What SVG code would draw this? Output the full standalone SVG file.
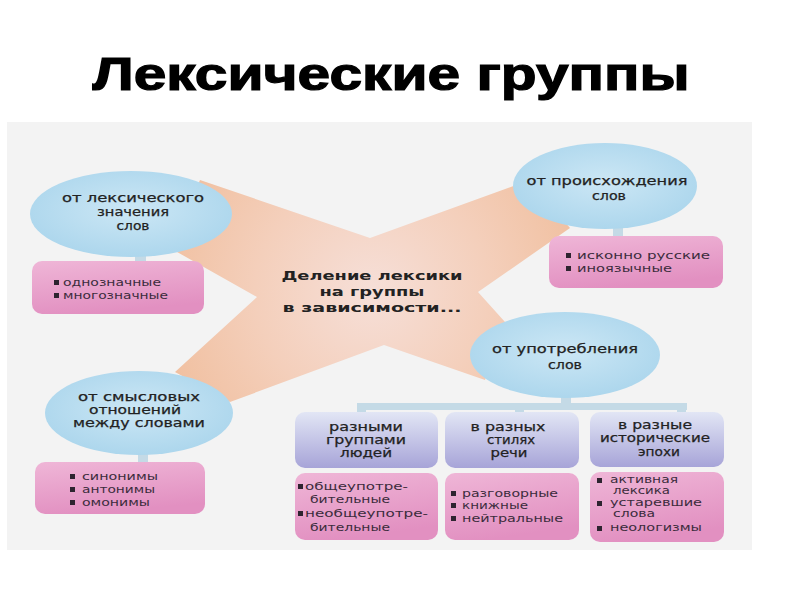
<svg xmlns="http://www.w3.org/2000/svg" width="800" height="600" viewBox="0 0 800 600">
<defs>
<radialGradient id="peach" cx="372" cy="292" r="260" gradientUnits="userSpaceOnUse">
<stop offset="0" stop-color="#f6dfd8"/>
<stop offset="0.45" stop-color="#f4cfbb"/>
<stop offset="1" stop-color="#efb994"/>
</radialGradient>
<radialGradient id="blue" cx="0.5" cy="0.45" r="0.6">
<stop offset="0" stop-color="#cce7f5"/>
<stop offset="1" stop-color="#aad5ec"/>
</radialGradient>
<linearGradient id="pink" x1="0" y1="0" x2="0.3" y2="1">
<stop offset="0" stop-color="#efb6d7"/>
<stop offset="1" stop-color="#e290c1"/>
</linearGradient>
<linearGradient id="lav" x1="0" y1="0" x2="0" y2="1">
<stop offset="0" stop-color="#e2e6f5"/>
<stop offset="1" stop-color="#a7a4d8"/>
</linearGradient>
</defs>
<style>
.ell{fill:url(#blue)}
.pink{fill:url(#pink)}
.lav{fill:url(#lav)}
.stem{fill:#c4dae6}
.t{font-family:"DejaVu Sans","Liberation Sans",sans-serif;font-size:12px;fill:#222;stroke:#222;stroke-width:0.25;text-anchor:middle}
.b{font-weight:bold;stroke-width:0}
.l{font-family:"DejaVu Sans","Liberation Sans",sans-serif;font-size:11px;fill:#3b2c3c}
.s{font-size:10px}
.bul{fill:#2e2430}
</style>
<rect width="800" height="600" fill="#ffffff"/>
<rect x="7" y="122" width="745" height="428" fill="#f3f3f3"/>

<text x="391" y="90" font-family="Liberation Sans, Arial, sans-serif" font-weight="bold" font-size="46" textLength="597" lengthAdjust="spacingAndGlyphs" text-anchor="middle" fill="#000" stroke="#000" stroke-width="1.2">Лексические группы</text>

<g id="x-shape">
<polygon fill="url(#peach)" points="200,180 370,238 530,180 570,228 478,292 505,322 485,380 384,345 230,402 175,372 257,297 170,248"/>
</g>

<g id="connectors">
<rect class="stem" x="135" y="252" width="11" height="10"/>
<rect class="stem" x="613" y="226" width="10" height="11"/>
<rect class="stem" x="138" y="452" width="10" height="11"/>
<rect class="stem" x="561" y="395" width="10" height="10"/>
<rect class="stem" x="357" y="403" width="330" height="7"/>
<rect class="stem" x="357" y="403" width="9" height="10"/>
<rect class="stem" x="515" y="403" width="9" height="10"/>
<rect class="stem" x="677" y="403" width="9" height="10"/>
</g>

<g id="center">
<text class="t b" x="372" y="280" font-size="13" textLength="181" lengthAdjust="spacingAndGlyphs">Деление лексики</text>
<text class="t b" x="372" y="296" font-size="13" textLength="105" lengthAdjust="spacingAndGlyphs">на группы</text>
<text class="t b" x="372" y="312" font-size="13" textLength="179" lengthAdjust="spacingAndGlyphs">в зависимости...</text>
</g>

<g id="lexical-meaning">
<ellipse class="ell" cx="131" cy="214" rx="101" ry="43"/>
<text class="t" x="133" y="202" textLength="142" lengthAdjust="spacingAndGlyphs">от лексического</text>
<text class="t" x="133" y="216" textLength="72" lengthAdjust="spacingAndGlyphs">значения</text>
<text class="t" x="133" y="230" textLength="33" lengthAdjust="spacingAndGlyphs">слов</text>
</g>
<g id="lexical-meaning-list">
<rect class="pink" x="32" y="261" width="172" height="53" rx="10"/>
<rect class="bul" x="54" y="280" width="5" height="5"/>
<rect class="bul" x="54" y="293" width="5" height="5"/>
<text class="l" x="63" y="286" textLength="98" lengthAdjust="spacingAndGlyphs">однозначные</text>
<text class="l" x="63" y="299" textLength="105" lengthAdjust="spacingAndGlyphs">многозначные</text>
</g>

<g id="origin">
<ellipse class="ell" cx="605" cy="186" rx="92" ry="43"/>
<text class="t" x="607" y="185" textLength="161" lengthAdjust="spacingAndGlyphs">от происхождения</text>
<text class="t" x="609" y="200" textLength="34" lengthAdjust="spacingAndGlyphs">слов</text>
</g>
<g id="origin-list">
<rect class="pink" x="549" y="236" width="174" height="52" rx="10"/>
<rect class="bul" x="566" y="253" width="5" height="5"/>
<rect class="bul" x="566" y="266" width="5" height="5"/>
<text class="l" x="577" y="259" textLength="133" lengthAdjust="spacingAndGlyphs">исконно русские</text>
<text class="l" x="577" y="272" textLength="95" lengthAdjust="spacingAndGlyphs">иноязычные</text>
</g>

<g id="semantic">
<ellipse class="ell" cx="139" cy="413" rx="94" ry="42"/>
<text class="t" x="139" y="401" textLength="122" lengthAdjust="spacingAndGlyphs">от смысловых</text>
<text class="t" x="135" y="414" textLength="92" lengthAdjust="spacingAndGlyphs">отношений</text>
<text class="t" x="139" y="427" textLength="132" lengthAdjust="spacingAndGlyphs">между словами</text>
</g>
<g id="semantic-list">
<rect class="pink" x="35" y="462" width="170" height="52" rx="10"/>
<rect class="bul" x="70" y="474" width="5" height="5"/>
<rect class="bul" x="70" y="487" width="5" height="5"/>
<rect class="bul" x="70" y="500" width="5" height="5"/>
<text class="l" x="82" y="480" textLength="76" lengthAdjust="spacingAndGlyphs">синонимы</text>
<text class="l" x="82" y="493" textLength="73" lengthAdjust="spacingAndGlyphs">антонимы</text>
<text class="l" x="82" y="506" textLength="68" lengthAdjust="spacingAndGlyphs">омонимы</text>
</g>

<g id="usage">
<ellipse class="ell" cx="565" cy="355" rx="95" ry="43"/>
<text class="t" x="565" y="353" textLength="146" lengthAdjust="spacingAndGlyphs">от употребления</text>
<text class="t" x="565" y="369" textLength="34" lengthAdjust="spacingAndGlyphs">слов</text>
</g>

<g id="groups-people">
<rect class="lav" x="295" y="412" width="143" height="56" rx="10"/>
<text class="t" x="366" y="431" textLength="74" lengthAdjust="spacingAndGlyphs">разными</text>
<text class="t" x="366" y="444" textLength="80" lengthAdjust="spacingAndGlyphs">группами</text>
<text class="t" x="366" y="457" textLength="52" lengthAdjust="spacingAndGlyphs">людей</text>
</g>
<g id="groups-people-list">
<rect class="pink" x="295" y="473" width="143" height="67" rx="10"/>
<rect class="bul" x="298" y="484" width="5" height="5"/>
<rect class="bul" x="298" y="511" width="5" height="5"/>
<text class="l" x="305" y="490" textLength="103" lengthAdjust="spacingAndGlyphs">общеупотре-</text>
<text class="l" x="310" y="503" textLength="80" lengthAdjust="spacingAndGlyphs">бительные</text>
<text class="l" x="305" y="517" textLength="123" lengthAdjust="spacingAndGlyphs">необщеупотре-</text>
<text class="l" x="310" y="531" textLength="80" lengthAdjust="spacingAndGlyphs">бительные</text>
</g>

<g id="styles">
<rect class="lav" x="445" y="412" width="134" height="56" rx="10"/>
<text class="t" x="508" y="431" textLength="75" lengthAdjust="spacingAndGlyphs">в разных</text>
<text class="t" x="511" y="444" textLength="48" lengthAdjust="spacingAndGlyphs">стилях</text>
<text class="t" x="509" y="457" textLength="37" lengthAdjust="spacingAndGlyphs">речи</text>
</g>
<g id="styles-list">
<rect class="pink" x="445" y="473" width="134" height="67" rx="10"/>
<rect class="bul" x="451" y="491" width="5" height="5"/>
<rect class="bul" x="451" y="503" width="5" height="5"/>
<rect class="bul" x="451" y="516" width="5" height="5"/>
<text class="l" x="462" y="497" textLength="96" lengthAdjust="spacingAndGlyphs">разговорные</text>
<text class="l" x="462" y="509" textLength="66" lengthAdjust="spacingAndGlyphs">книжные</text>
<text class="l" x="462" y="522" textLength="101" lengthAdjust="spacingAndGlyphs">нейтральные</text>
</g>

<g id="epochs">
<rect class="lav" x="590" y="412" width="134" height="55" rx="10"/>
<text class="t" x="655" y="429" textLength="74" lengthAdjust="spacingAndGlyphs">в разные</text>
<text class="t" x="655" y="442" textLength="110" lengthAdjust="spacingAndGlyphs">исторические</text>
<text class="t" x="659" y="456" textLength="42" lengthAdjust="spacingAndGlyphs">эпохи</text>
</g>
<g id="epochs-list">
<rect class="pink" x="590" y="472" width="134" height="70" rx="10"/>
<rect class="bul" x="597" y="478" width="5" height="5"/>
<rect class="bul" x="597" y="501" width="5" height="5"/>
<rect class="bul" x="597" y="526" width="5" height="5"/>
<text class="l s" x="610" y="483" textLength="68" lengthAdjust="spacingAndGlyphs">активная</text>
<text class="l s" x="613" y="494" textLength="57" lengthAdjust="spacingAndGlyphs">лексика</text>
<text class="l s" x="610" y="506" textLength="92" lengthAdjust="spacingAndGlyphs">устаревшие</text>
<text class="l s" x="613" y="517" textLength="42" lengthAdjust="spacingAndGlyphs">слова</text>
<text class="l s" x="610" y="531" textLength="92" lengthAdjust="spacingAndGlyphs">неологизмы</text>
</g>
</svg>
